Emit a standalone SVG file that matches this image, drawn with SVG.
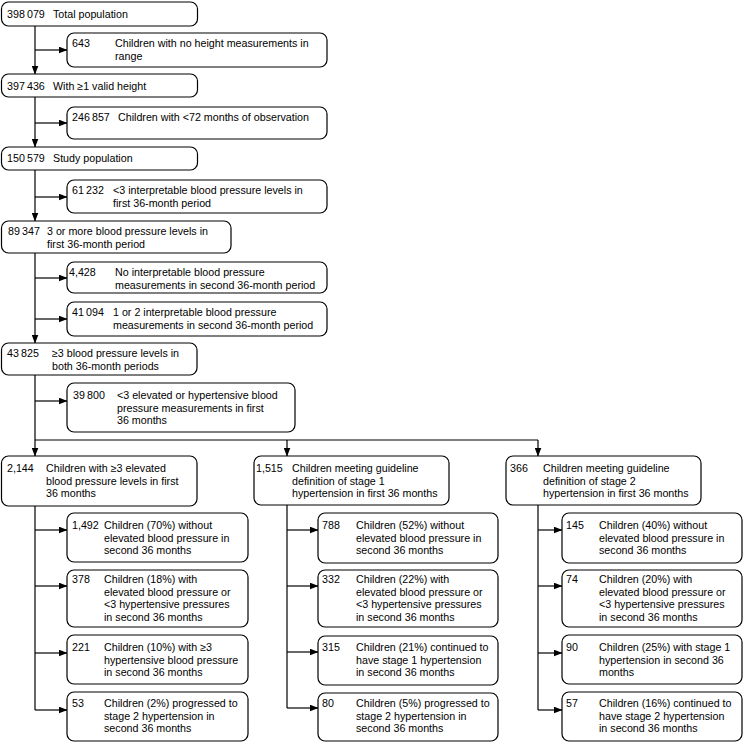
<svg xmlns="http://www.w3.org/2000/svg" width="744" height="743" viewBox="0 0 744 743">
<defs>
<marker id="ah" markerWidth="9" markerHeight="7" refX="8.5" refY="3.5" orient="auto" markerUnits="userSpaceOnUse">
<path d="M0,0 L9,3.5 L0,7 z" fill="#000"/>
</marker>
</defs>
<style>
rect{fill:#fff;stroke:#000;stroke-width:1.2}
text{font-family:"Liberation Sans",Arial,sans-serif;font-size:10.7px;fill:#000}
.c line{stroke:#000;stroke-width:1.2;fill:none}
.a{marker-end:url(#ah)}
</style>
<rect x="0" y="0" width="744" height="743" style="fill:#fff;stroke:none"/>
<g class="c" id="connectors">
<line x1="35" y1="26" x2="35" y2="74" class="a"/>
<line x1="35" y1="50" x2="67" y2="50" class="a"/>
<line x1="35" y1="97" x2="35" y2="147" class="a"/>
<line x1="35" y1="123" x2="67" y2="123" class="a"/>
<line x1="35" y1="170" x2="35" y2="221" class="a"/>
<line x1="35" y1="197" x2="67" y2="197" class="a"/>
<line x1="35" y1="253" x2="35" y2="343" class="a"/>
<line x1="35" y1="278" x2="67" y2="278" class="a"/>
<line x1="35" y1="319" x2="67" y2="319" class="a"/>
<line x1="35" y1="375" x2="35" y2="456" class="a"/>
<line x1="35" y1="401" x2="67" y2="401" class="a"/>
<line x1="35" y1="440" x2="538" y2="440"/>
<line x1="287" y1="440" x2="287" y2="456" class="a"/>
<line x1="538" y1="440" x2="538" y2="456" class="a"/>
<line x1="35" y1="506" x2="35" y2="710"/>
<line x1="35" y1="530" x2="67" y2="530" class="a"/>
<line x1="35" y1="586" x2="67" y2="586" class="a"/>
<line x1="35" y1="653" x2="67" y2="653" class="a"/>
<line x1="35" y1="710" x2="67" y2="710" class="a"/>
<line x1="287" y1="505" x2="287" y2="708"/>
<line x1="287" y1="530" x2="318" y2="530" class="a"/>
<line x1="287" y1="586" x2="318" y2="586" class="a"/>
<line x1="287" y1="652" x2="318" y2="652" class="a"/>
<line x1="287" y1="708" x2="318" y2="708" class="a"/>
<line x1="538" y1="505" x2="538" y2="710"/>
<line x1="538" y1="530" x2="562" y2="530" class="a"/>
<line x1="538" y1="586" x2="562" y2="586" class="a"/>
<line x1="538" y1="653" x2="562" y2="653" class="a"/>
<line x1="538" y1="710" x2="562" y2="710" class="a"/>
</g>
<g id="b1"><rect x="1.5" y="2" width="196" height="24" rx="7"/><text x="7" y="18">398&#8201;079</text><text x="53" y="18">Total population</text></g>
<g id="s1"><rect x="67" y="33" width="260" height="34" rx="7"/><text x="72" y="47">643</text><text x="115" y="47">Children with no height measurements in</text><text x="115" y="60">range</text></g>
<g id="b2"><rect x="1.5" y="74" width="196" height="23" rx="7"/><text x="7" y="90">397&#8201;436</text><text x="53" y="90">With ≥1 valid height</text></g>
<g id="s2"><rect x="67" y="107" width="260" height="32" rx="7"/><text x="72" y="121">246&#8201;857</text><text x="118" y="121">Children with &lt;72 months of observation</text></g>
<g id="b3"><rect x="1.5" y="147" width="196" height="23" rx="7"/><text x="7" y="161.5">150&#8201;579</text><text x="53" y="161.5">Study population</text></g>
<g id="s3"><rect x="67" y="180" width="260" height="33" rx="7"/><text x="72" y="194">61&#8201;232</text><text x="113" y="194">&lt;3 interpretable blood pressure levels in</text><text x="113" y="206.5">first 36-month period</text></g>
<g id="b4"><rect x="1.5" y="221" width="229.5" height="32" rx="7"/><text x="8" y="235">89&#8201;347</text><text x="47" y="235">3 or more blood pressure levels in</text><text x="47" y="247.5">first 36-month period</text></g>
<g id="s4"><rect x="67" y="262" width="260" height="31" rx="7"/><text x="69" y="276">4,428</text><text x="115" y="276">No interpretable blood pressure</text><text x="115" y="288.5">measurements in second 36-month period</text></g>
<g id="s5"><rect x="67" y="302" width="260" height="34" rx="7"/><text x="72" y="316">41&#8201;094</text><text x="113" y="316">1 or 2 interpretable blood pressure</text><text x="113" y="328.5">measurements in second 36-month period</text></g>
<g id="b5"><rect x="1.5" y="343" width="195.5" height="32" rx="7"/><text x="7" y="357">43&#8201;825</text><text x="52" y="357">≥3 blood pressure levels in</text><text x="52" y="369.5">both 36-month periods</text></g>
<g id="s6"><rect x="67" y="383" width="228" height="49" rx="7"/><text x="73" y="399">39&#8201;800</text><text x="117" y="399">&lt;3 elevated or hypertensive blood</text><text x="117" y="411.5">pressure measurements in first</text><text x="117" y="424">36 months</text></g>
<g id="c1"><rect x="1.5" y="456" width="195.5" height="50" rx="7"/><text x="7" y="472">2,144</text><text x="46" y="472">Children with ≥3 elevated</text><text x="46" y="484.5">blood pressure levels in first</text><text x="46" y="497">36 months</text></g>
<g id="c2"><rect x="254" y="456" width="195" height="49" rx="7"/><text x="256" y="472">1,515</text><text x="292" y="472">Children meeting guideline</text><text x="292" y="484.5">definition of stage 1</text><text x="292" y="497">hypertension in first 36 months</text></g>
<g id="c3"><rect x="506" y="456" width="195" height="49" rx="7"/><text x="510" y="472">366</text><text x="543" y="472">Children meeting guideline</text><text x="543" y="484.5">definition of stage 2</text><text x="543" y="497">hypertension in first 36 months</text></g>
<g id="c1r1"><rect x="67" y="513" width="181" height="49" rx="7"/><text x="72" y="529">1,492</text><text x="104" y="529">Children (70%) without</text><text x="104" y="541.5">elevated blood pressure in</text><text x="104" y="554">second 36 months</text></g>
<g id="c1r2"><rect x="67" y="570" width="181" height="57" rx="7"/><text x="72" y="583">378</text><text x="104" y="583">Children (18%) with</text><text x="104" y="595.5">elevated blood pressure or</text><text x="104" y="608">&lt;3 hypertensive pressures</text><text x="104" y="620.5">in second 36 months</text></g>
<g id="c1r3"><rect x="67" y="635" width="181" height="49" rx="7"/><text x="72" y="651">221</text><text x="104" y="651">Children (10%) with ≥3</text><text x="104" y="663.5">hypertensive blood pressure</text><text x="104" y="676">in second 36 months</text></g>
<g id="c1r4"><rect x="67" y="692" width="181" height="49" rx="7"/><text x="72" y="707">53</text><text x="104" y="707">Children (2%) progressed to</text><text x="104" y="719.5">stage 2 hypertension in</text><text x="104" y="732">second 36 months</text></g>
<g id="c2r1"><rect x="318" y="513" width="180" height="50" rx="7"/><text x="322" y="529">788</text><text x="356" y="529">Children (52%) without</text><text x="356" y="541.5">elevated blood pressure in</text><text x="356" y="554">second 36 months</text></g>
<g id="c2r2"><rect x="318" y="570" width="180" height="57" rx="7"/><text x="322" y="583">332</text><text x="356" y="583">Children (22%) with</text><text x="356" y="595.5">elevated blood pressure or</text><text x="356" y="608">&lt;3 hypertensive pressures</text><text x="356" y="620.5">in second 36 months</text></g>
<g id="c2r3"><rect x="318" y="636" width="180" height="49" rx="7"/><text x="322" y="651">315</text><text x="356" y="651">Children (21%) continued to</text><text x="356" y="663.5">have stage 1 hypertension</text><text x="356" y="676">in second 36 months</text></g>
<g id="c2r4"><rect x="318" y="693" width="180" height="48" rx="7"/><text x="322" y="707">80</text><text x="356" y="707">Children (5%) progressed to</text><text x="356" y="719.5">stage 2 hypertension in</text><text x="356" y="732">second 36 months</text></g>
<g id="c3r1"><rect x="562" y="513" width="180" height="50" rx="7"/><text x="566" y="529">145</text><text x="599" y="529">Children (40%) without</text><text x="599" y="541.5">elevated blood pressure in</text><text x="599" y="554">second 36 months</text></g>
<g id="c3r2"><rect x="562" y="570" width="180" height="57" rx="7"/><text x="566" y="583">74</text><text x="599" y="583">Children (20%) with</text><text x="599" y="595.5">elevated blood pressure or</text><text x="599" y="608">&lt;3 hypertensive pressures</text><text x="599" y="620.5">in second 36 months</text></g>
<g id="c3r3"><rect x="562" y="635" width="180" height="49" rx="7"/><text x="566" y="651">90</text><text x="599" y="651">Children (25%) with stage 1</text><text x="599" y="663.5">hypertension in second 36</text><text x="599" y="676">months</text></g>
<g id="c3r4"><rect x="562" y="692" width="180" height="49" rx="7"/><text x="566" y="707">57</text><text x="599" y="707">Children (16%) continued to</text><text x="599" y="719.5">have stage 2 hypertension</text><text x="599" y="732">in second 36 months</text></g>
</svg>
